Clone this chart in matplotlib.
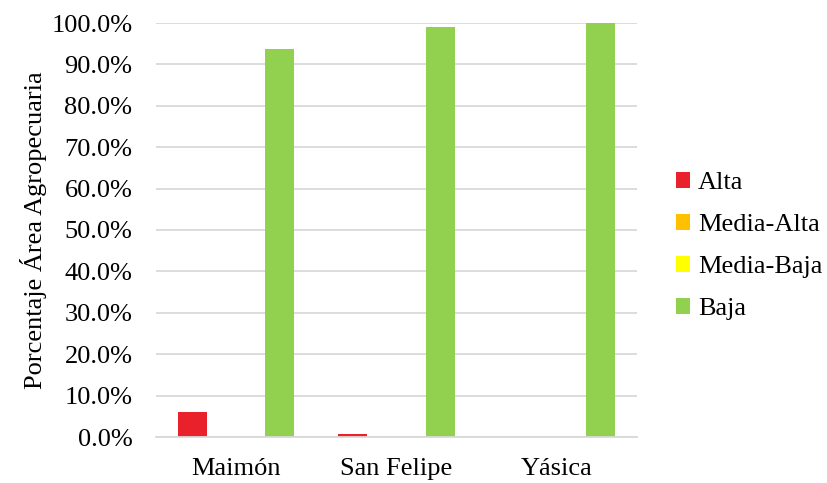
import matplotlib
matplotlib.use("Agg")
import matplotlib.pyplot as plt
import numpy as np
from matplotlib.ticker import FuncFormatter

# Percentage of farmland per susceptibility class and basin
cuencas = ["Maimón", "San Felipe", "Yásica"]
clases = ["Alta", "Media-Alta", "Media-Baja", "Baja"]
alta = [0.060, 0.007, 0.0]
media_alta = [0.0, 0.0, 0.0]
media_baja = [0.0, 0.0, 0.0]
baja = [0.937, 0.990, 1.0]
colores = ["#E8212A", "#FFC000", "#FFFF00", "#92D050"]

plt.rcParams["font.family"] = ["Liberation Serif", "DejaVu Serif"]
plt.rcParams["font.size"] = 19

fig = plt.figure(figsize=(8.27, 4.83), dpi=100)
ax = fig.add_axes([156 / 827, 1 - 437 / 483, (637 - 156) / 827, (437 - 23) / 483])

x = np.arange(len(cuencas))
ancho = 1 / 5.5  # four bars plus a 150% gap
series = [alta, media_alta, media_baja, baja]
for i, (vals, nombre, color) in enumerate(zip(series, clases, colores)):
    ax.bar(x + (i - 1.5) * ancho, vals, ancho, color=color, label=nombre, zorder=3)

ax.set_xlim(-0.5, len(cuencas) - 0.5)
ax.set_ylim(0, 1)
ax.set_yticks(np.arange(0, 1.01, 0.1))
ax.yaxis.set_major_formatter(FuncFormatter(lambda v, _: f"{v * 100:.1f}%"))
ax.set_xticks(x)
ax.set_xticklabels(cuencas)
ax.tick_params(axis="y", length=0, pad=17)
ax.tick_params(axis="x", length=0, pad=15)
ax.grid(axis="y", color="#d9d9d9", linewidth=1.3, zorder=0)
for s in ["top", "right", "left"]:
    ax.spines[s].set_visible(False)
ax.spines["bottom"].set_color("#d9d9d9")
ax.spines["bottom"].set_linewidth(1.3)
ax.spines["bottom"].set_zorder(4)

ax.set_ylabel("Porcentaje Área Agropecuaria", labelpad=3)

fig.legend(loc="center left", bbox_to_anchor=(665 / 827, 1 - 246 / 483),
           frameon=False, handlelength=0.55, handleheight=0.55,
           handletextpad=0.3, labelspacing=0.75, borderaxespad=0)

fig.savefig("out.png", dpi=100)
